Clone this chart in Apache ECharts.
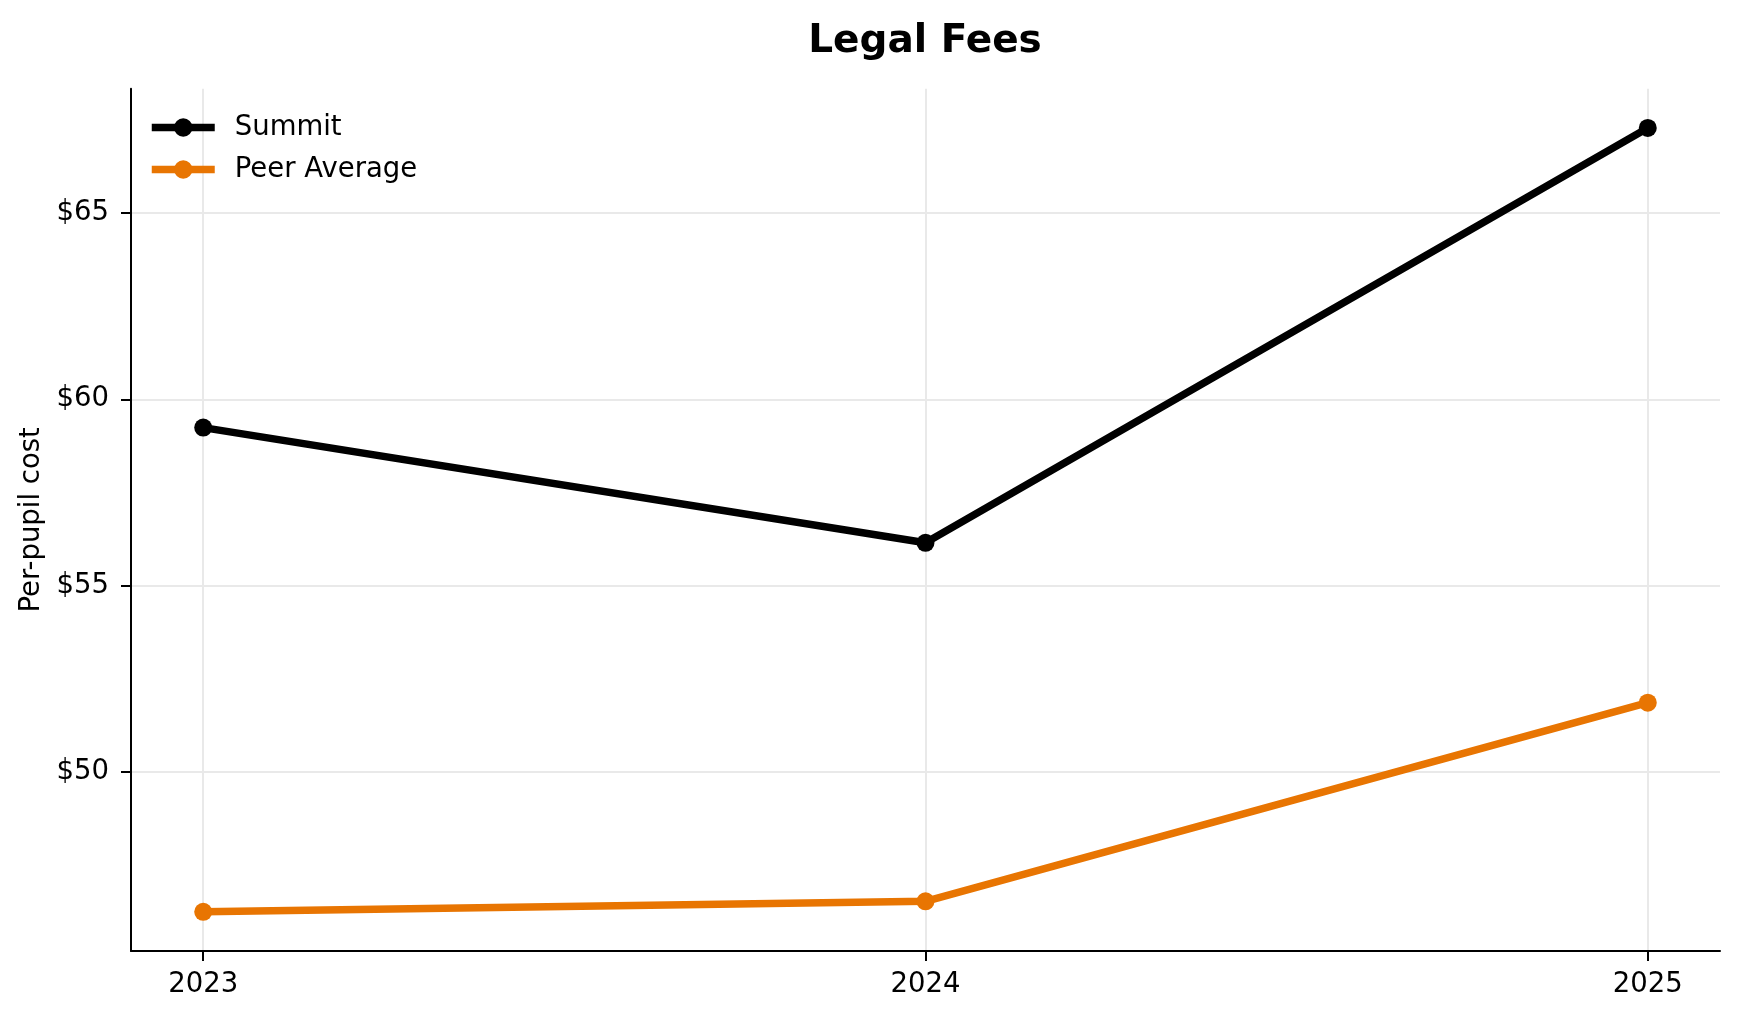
<!DOCTYPE html>
<html>
<head>
<meta charset="utf-8">
<script src="https://cdn.jsdelivr.net/npm/echarts@6/dist/echarts.min.js"></script>
<style>
html,body{margin:0;padding:0;background:#fff;}
#chart{width:1739px;height:1019px;}
</style>
</head>
<body>
<div id="chart"></div>
<script>
const years = [2023, 2024, 2025];
const summit = [59.24, 56.15, 67.28];
const peerAverage = [46.25, 46.53, 51.86];
const yTicks = [50, 55, 60, 65];

const FONT = 'DejaVu Sans';
const FS = 27.5;
const allVals = summit.concat(peerAverage);
const yLo = Math.min(...allVals), yHi = Math.max(...allVals);
const yPad = (yHi - yLo) * 0.05;
const xPad = (years[years.length - 1] - years[0]) * 0.05;

const chart = echarts.init(document.getElementById('chart'), null, {renderer: 'canvas'});
chart.setOption({
  animation: false,
  backgroundColor: '#ffffff',
  title: {
    text: 'Legal Fees',
    left: 920,
    textAlign: 'center',
    top: 17,
    textStyle: {fontFamily: FONT, fontSize: 39, fontWeight: 'bold', color: '#000'}
  },
  legend: {
    orient: 'vertical',
    left: 143,
    top: 108.5,
    itemWidth: 63,
    itemHeight: 23,
    itemGap: 14,
    lineStyle: {width: 7.5},
    textStyle: {fontFamily: FONT, fontSize: FS, color: '#000', padding: [0, 0, 0, 15]},
    data: ['Summit', 'Peer Average']
  },
  grid: {left: 131, right: 19, top: 88.7, bottom: 68, containLabel: false},
  xAxis: {
    type: 'value',
    min: years[0] - xPad,
    max: years[years.length - 1] + xPad,
    axisLine: {show: true, onZero: false, lineStyle: {color: '#000', width: 2}},
    axisTick: {show: true, length: 10, lineStyle: {color: '#000', width: 2}, customValues: years},
    axisLabel: {customValues: years, margin: 20, fontFamily: FONT, fontSize: FS, color: '#000', formatter: v => String(v)},
    splitLine: {show: true, lineStyle: {color: '#e9e9e9', width: 2}}
  },
  yAxis: {
    type: 'value',
    min: yLo - yPad,
    max: yHi + yPad,
    name: 'Per-pupil cost',
    nameLocation: 'middle',
    nameGap: 77,
    nameTextStyle: {fontFamily: FONT, fontSize: FS, color: '#000'},
    axisLine: {show: true, onZero: false, lineStyle: {color: '#000', width: 2}},
    axisTick: {show: true, length: 10, lineStyle: {color: '#000', width: 2}, customValues: yTicks},
    axisLabel: {customValues: yTicks, margin: 22, fontFamily: FONT, fontSize: FS, color: '#000', formatter: v => '$' + v},
    splitLine: {show: true, lineStyle: {color: '#e9e9e9', width: 2}}
  },
  series: [
    {
      name: 'Summit',
      type: 'line',
      data: years.map((y, i) => [y, summit[i]]),
      symbol: 'circle',
      symbolSize: 18,
      lineStyle: {color: '#000000', width: 7.5},
      itemStyle: {color: '#000000'},
      z: 3
    },
    {
      name: 'Peer Average',
      type: 'line',
      data: years.map((y, i) => [y, peerAverage[i]]),
      symbol: 'circle',
      symbolSize: 18,
      lineStyle: {color: '#e87502', width: 7.5},
      itemStyle: {color: '#e87502'},
      z: 2
    }
  ]
});
</script>
</body>
</html>
